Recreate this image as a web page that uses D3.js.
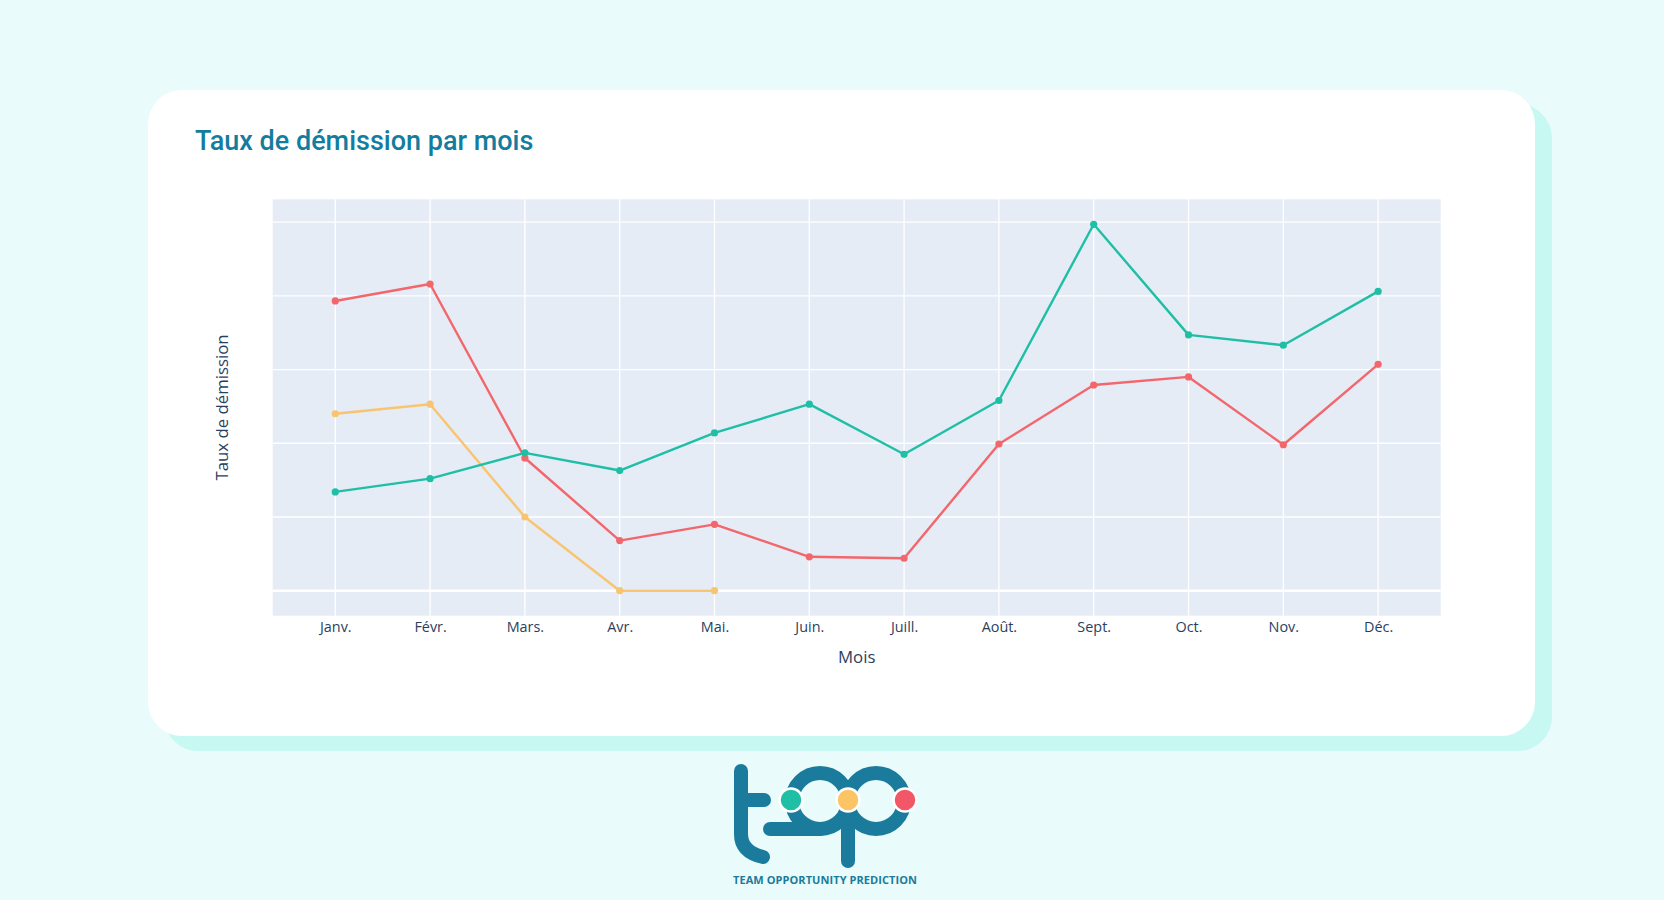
<!DOCTYPE html>
<html>
<head>
<meta charset="utf-8">
<script src="https://cdn.jsdelivr.net/npm/d3@7"></script>
<style>
  html, body { margin: 0; padding: 0; background: #e9fbfb; }
  svg { display: block; }
</style>
</head>
<body>
<svg id="chart"></svg>
<script>
// Monthly resignation rates (y labels are hidden in the original)
const months = ["Janv.", "Févr.", "Mars.", "Avr.", "Mai.", "Juin.", "Juill.", "Août.", "Sept.", "Oct.", "Nov.", "Déc."];
const redValues = [3.93, 4.16, 1.80, 0.68, 0.90, 0.46, 0.44, 1.99, 2.79, 2.90, 1.98, 3.07];
const greenValues = [1.34, 1.52, 1.87, 1.63, 2.14, 2.53, 1.85, 2.58, 4.97, 3.47, 3.33, 4.06];
const yellowValues = [2.40, 2.53, 1.00, 0.00, 0.00];
const yTicks = [0, 1, 2, 3, 4, 5];

const series = [
  {name: "yellow", color: "#f9c46f", values: yellowValues},
  {name: "red", color: "#f2666c", values: redValues},
  {name: "green", color: "#1fbfa5", values: greenValues}
];

const width = 1664, height = 900;
const svg = d3.select("#chart").attr("width", width).attr("height", height);

// card + offset shadow
svg.append("rect")
  .attr("x", 164).attr("y", 104).attr("width", 1388).attr("height", 647)
  .attr("rx", 34).attr("fill", "#c8f8f2");
svg.append("rect")
  .attr("x", 148).attr("y", 90).attr("width", 1387).attr("height", 646)
  .attr("rx", 34).attr("fill", "#ffffff");

svg.append("text")
  .attr("x", 195).attr("y", 150)
  .attr("font-family", "Roboto, sans-serif")
  .attr("font-weight", 500)
  .attr("font-size", 27)
  .attr("fill", "#137c9f")
  .text("Taux de démission par mois");

// plot area
const plot = {left: 272.7, right: 1440.7, top: 199.3, bottom: 615.7};
const markerPad = 25;

const x = d3.scalePoint()
  .domain(months)
  .range([plot.left, plot.right])
  .padding(0.66);

const allValues = series.flatMap(s => s.values);
const lo = d3.min(allValues), hi = d3.max(allValues);
const k = (hi - lo) / (plot.bottom - plot.top - 2 * markerPad);
const y = d3.scaleLinear()
  .domain([lo - markerPad * k, hi + markerPad * k])
  .range([plot.bottom, plot.top]);

svg.append("rect")
  .attr("x", plot.left).attr("y", plot.top)
  .attr("width", plot.right - plot.left).attr("height", plot.bottom - plot.top)
  .attr("fill", "#e5ecf6");

const grid = svg.append("g").attr("stroke", "#ffffff");
grid.selectAll("line.v")
  .data(months)
  .join("line")
  .attr("class", "v")
  .attr("x1", d => x(d)).attr("x2", d => x(d))
  .attr("y1", plot.top).attr("y2", plot.bottom)
  .attr("stroke-width", 1.3);
grid.selectAll("line.h")
  .data(yTicks)
  .join("line")
  .attr("class", "h")
  .attr("x1", plot.left).attr("x2", plot.right)
  .attr("y1", d => y(d)).attr("y2", d => y(d))
  .attr("stroke-width", d => d === 0 ? 2.4 : 1.3);

// x axis labels
const xAxis = svg.append("g")
  .attr("transform", `translate(0,${plot.bottom})`)
  .call(d3.axisBottom(x).tickSize(0).tickPadding(6));
xAxis.select(".domain").remove();
xAxis.selectAll("text")
  .attr("font-family", "'Open Sans', sans-serif")
  .attr("font-size", 14.4)
  .attr("fill", "#2a3f5f");

svg.append("text")
  .attr("x", (plot.left + plot.right) / 2).attr("y", 663)
  .attr("text-anchor", "middle")
  .attr("font-family", "'Open Sans', sans-serif")
  .attr("font-size", 16.8)
  .attr("fill", "#2a3f5f")
  .text("Mois");

svg.append("text")
  .attr("transform", `translate(228,${(plot.top + plot.bottom) / 2}) rotate(-90)`)
  .attr("text-anchor", "middle")
  .attr("font-family", "'Open Sans', sans-serif")
  .attr("font-size", 16.8)
  .attr("fill", "#2a3f5f")
  .text("Taux de démission");

// lines + markers
const line = d3.line()
  .x((d, i) => x(months[i]))
  .y(d => y(d));

series.forEach(s => {
  const g = svg.append("g");
  g.append("path")
    .attr("d", line(s.values))
    .attr("fill", "none")
    .attr("stroke", s.color)
    .attr("stroke-width", 2.4)
    .attr("stroke-linejoin", "round");
  g.selectAll("circle")
    .data(s.values)
    .join("circle")
    .attr("cx", (d, i) => x(months[i]))
    .attr("cy", d => y(d))
    .attr("r", 3.6)
    .attr("fill", s.color);
});

// logo
const logoBlue = "#1a7b9c";
const logo = svg.append("g")
  .attr("fill", "none")
  .attr("stroke", logoBlue)
  .attr("stroke-width", 14)
  .attr("stroke-linecap", "round");
logo.append("path").attr("d", "M741,771 V834 Q741,852 763,857");
logo.append("path").attr("d", "M741,800 H764");
logo.append("path").attr("d", "M770,829 H820");
logo.append("circle").attr("cx", 820).attr("cy", 801).attr("r", 28);
logo.append("circle").attr("cx", 876).attr("cy", 801).attr("r", 28);
logo.append("path").attr("d", "M848,808 V861");

const dots = [
  {cx: 791, color: "#1fbfa5"},
  {cx: 848, color: "#fbc465"},
  {cx: 905, color: "#f25767"}
];
svg.append("g").selectAll("circle")
  .data(dots)
  .join("circle")
  .attr("cx", d => d.cx).attr("cy", 800).attr("r", 11.5)
  .attr("fill", d => d.color)
  .attr("stroke", "#ffffff").attr("stroke-width", 2.5);

svg.append("text")
  .attr("x", 825).attr("y", 884)
  .attr("text-anchor", "middle")
  .attr("font-family", "'Open Sans', sans-serif")
  .attr("font-weight", 700)
  .attr("font-size", 11)
  .attr("textLength", 184)
  .attr("fill", logoBlue)
  .text("TEAM OPPORTUNITY PREDICTION");
</script>
</body>
</html>
